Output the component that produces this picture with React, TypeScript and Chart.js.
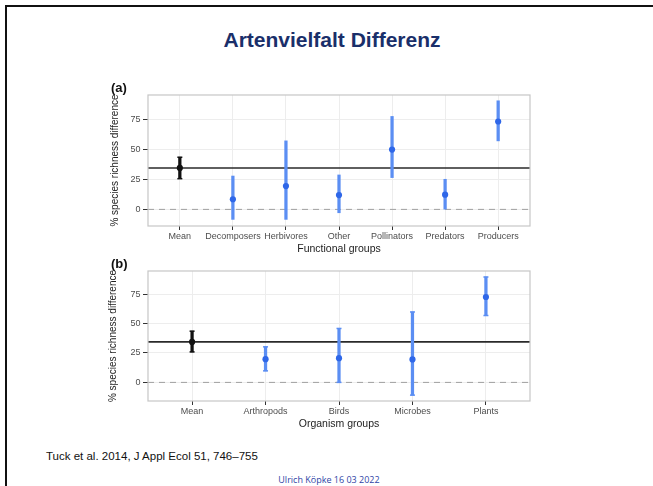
import React, { useEffect, useRef } from "react";
import { Chart, registerables } from "chart.js";

Chart.register(...registerables);

// ---------- data ----------
const functionalGroups = ["Mean", "Decomposers", "Herbivores", "Other", "Pollinators", "Predators", "Producers"];
const functionalEstimate = [34.4, 8.4, 19.4, 11.9, 49.7, 12.2, 73.0];
const functionalLower = [25.5, -8.3, -8.3, -2.8, 26.4, 0.2, 56.9];
const functionalUpper = [43.3, 27.7, 56.9, 28.6, 77.2, 25.0, 90.2];

const organismGroups = ["Mean", "Arthropods", "Birds", "Microbes", "Plants"];
const organismEstimate = [34.4, 19.7, 20.6, 19.5, 72.5];
const organismLower = [25.9, 9.8, 0.0, -10.8, 56.8];
const organismUpper = [43.5, 30.2, 45.8, 59.8, 89.5];

const yTickValues = [0, 25, 50, 75];
const overallMean = 34.4;
const zeroReference = 0;

const FONT = "'Liberation Sans', Arial, sans-serif";
const BLUE_BAR = "#5b8ef3";
const BLUE_POINT = "#2f67e8";
const MEAN_COLOR = "#111111";

type PanelProps = {
  labels: string[];
  estimate: number[];
  lower: number[];
  upper: number[];
  yMin: number;
  yMax: number;
  xTitle: string;
  blueCaps: boolean;
  xHeight: number;
  xTitlePadBottom: number;
  yTitlePadTop: number;
  left: number;
  top: number;
};

function Panel(p: PanelProps) {
  const ref = useRef<HTMLCanvasElement | null>(null);
  const W = 440;
  const H = 182;

  useEffect(() => {
    if (!ref.current) return;
    const n = p.labels.length;
    const colorsBar = p.labels.map((_, i) => (i === 0 ? MEAN_COLOR : BLUE_BAR));
    const colorsPt = p.labels.map((_, i) => (i === 0 ? MEAN_COLOR : BLUE_POINT));

    const decor = {
      id: "panelDecor",
      beforeDatasetsDraw(chart: any) {
        const { ctx, chartArea: a, scales } = chart;
        const y = scales.y;
        ctx.save();
        const y0 = y.getPixelForValue(zeroReference);
        ctx.strokeStyle = "#a0a0a0";
        ctx.lineWidth = 1;
        ctx.setLineDash([6, 5]);
        ctx.beginPath();
        ctx.moveTo(a.left, y0);
        ctx.lineTo(a.right, y0);
        ctx.stroke();
        ctx.setLineDash([]);
        const ym = y.getPixelForValue(overallMean);
        ctx.strokeStyle = "#2a2a2a";
        ctx.lineWidth = 1.6;
        ctx.beginPath();
        ctx.moveTo(a.left, ym);
        ctx.lineTo(a.right, ym);
        ctx.stroke();
        ctx.restore();
      },
      afterDatasetsDraw(chart: any) {
        const { ctx, scales } = chart;
        const x = scales.x;
        const y = scales.y;
        ctx.save();
        ctx.lineWidth = 1.5;
        for (let i = 0; i < n; i++) {
          if (i !== 0 && !p.blueCaps) continue;
          ctx.strokeStyle = i === 0 ? MEAN_COLOR : BLUE_BAR;
          const px = x.getPixelForValue(i);
          for (const v of [p.lower[i], p.upper[i]]) {
            const py = y.getPixelForValue(v);
            ctx.beginPath();
            ctx.moveTo(px - 2.5, py);
            ctx.lineTo(px + 2.5, py);
            ctx.stroke();
          }
        }
        ctx.restore();
      },
      afterDraw(chart: any) {
        const { ctx, chartArea: a } = chart;
        ctx.save();
        ctx.strokeStyle = "#c6c6c6";
        ctx.lineWidth = 1.2;
        ctx.strokeRect(a.left, a.top, a.right - a.left, a.bottom - a.top);
        ctx.restore();
      },
    };

    const chart = new Chart(ref.current, {
      type: "bar",
      data: {
        datasets: [
          {
            type: "line",
            data: p.estimate.map((v, i) => ({ x: i, y: v })),
            showLine: false,
            pointRadius: 3.1,
            pointBorderWidth: 0,
            pointBackgroundColor: colorsPt,
            order: 0,
          } as any,
          {
            type: "bar",
            data: p.lower.map((lo, i) => ({ x: i, y: [lo, p.upper[i]] })),
            backgroundColor: colorsBar,
            borderWidth: 0,
            barThickness: 2.6,
            order: 1,
          } as any,
        ],
      },
      plugins: [decor],
      options: {
        animation: false,
        responsive: false,
        layout: { padding: { top: 15, right: 10, left: 0, bottom: 0 } },
        plugins: {
          legend: { display: false },
          tooltip: { enabled: false },
          title: { display: false },
        },
        scales: {
          x: {
            type: "linear",
            min: -0.6,
            max: n - 1 + 0.6,
            offset: false,
            grid: {
              offset: false,
              color: "#ededed",
              tickColor: "#333333",
              tickLength: 4,
              lineWidth: 1,
            },
            border: { display: false },
            afterBuildTicks: (s: any) => {
              s.ticks = p.labels.map((_, i) => ({ value: i }));
            },
            ticks: {
              color: "#4d4d4d",
              font: { family: FONT, size: 9 },
              padding: 1,
              autoSkip: false,
              maxRotation: 0,
              callback: (v: any) => p.labels[v as number] ?? "",
            },
            title: {
              display: true,
              text: p.xTitle,
              color: "#222222",
              font: { family: FONT, size: 10.5 },
              padding: { top: 0, bottom: p.xTitlePadBottom },
            },
            afterFit: (s: any) => {
              s.height = p.xHeight;
            },
          } as any,
          y: {
            type: "linear",
            min: p.yMin,
            max: p.yMax,
            afterBuildTicks: (s: any) => {
              s.ticks = yTickValues.map((v) => ({ value: v }));
            },
            grid: {
              color: "#ededed",
              tickColor: "#333333",
              tickLength: 5,
              lineWidth: 1,
            },
            border: { display: false },
            ticks: {
              color: "#4d4d4d",
              font: { family: FONT, size: 9 },
              padding: 2.5,
            },
            title: {
              display: true,
              text: "% species richness difference",
              color: "#222222",
              font: { family: FONT, size: 10 },
              padding: { top: p.yTitlePadTop, bottom: 0 },
            },
            afterFit: (s: any) => {
              s.width = 48;
            },
          } as any,
        },
      },
    } as any);
    return () => chart.destroy();
  }, []);

  return (
    <canvas
      ref={ref}
      width={W}
      height={H}
      style={{ position: "absolute", left: p.left, top: p.top, width: W, height: H, display: "block" }}
    />
  );
}

export default function App() {
  return (
    <div
      style={{
        position: "absolute",
        left: 0,
        top: 0,
        width: 653,
        height: 486,
        background: "#ffffff",
        overflow: "hidden",
        fontFamily: FONT,
      }}
    >
      <div
        style={{
          position: "absolute",
          left: 5,
          top: 5,
          width: 660,
          height: 490,
          borderTop: "2px solid #111",
          borderLeft: "2px solid #111",
          boxSizing: "border-box",
        }}
      />
      <div
        style={{
          position: "absolute",
          left: 0,
          top: 28,
          width: 664,
          textAlign: "center",
          fontSize: 21,
          lineHeight: "24px",
          fontWeight: "bold",
          color: "#1a2f6a",
        }}
      >
        Artenvielfalt Differenz
      </div>
      <Panel
        labels={functionalGroups}
        estimate={functionalEstimate}
        lower={functionalLower}
        upper={functionalUpper}
        yMin={-13.8}
        yMax={95}
        xTitle="Functional groups"
        blueCaps={false}
        xHeight={36}
        xTitlePadBottom={6.7}
        yTitlePadTop={9}
        left={100}
        top={80}
      />
      <Panel
        labels={organismGroups}
        estimate={organismEstimate}
        lower={organismLower}
        upper={organismUpper}
        yMin={-15.8}
        yMax={94.6}
        xTitle="Organism groups"
        blueCaps={true}
        xHeight={37}
        xTitlePadBottom={7.7}
        yTitlePadTop={7}
        left={100}
        top={256}
      />
      <div style={{ position: "absolute", left: 111, top: 81, fontSize: 13, lineHeight: "14px", fontWeight: "bold", color: "#111" }}>
        (a)
      </div>
      <div style={{ position: "absolute", left: 111, top: 257, fontSize: 13, lineHeight: "14px", fontWeight: "bold", color: "#111" }}>
        (b)
      </div>
      <div style={{ position: "absolute", left: 46, top: 449, fontSize: 11.5, lineHeight: "14px", color: "#111" }}>
        Tuck et al. 2014, J Appl Ecol 51, 746–755
      </div>
      <div
        style={{
          position: "absolute",
          left: 0,
          top: 474,
          width: 658,
          textAlign: "center",
          fontSize: 9,
          lineHeight: "11px",
          color: "#2f45a6",
          fontFamily: "'Open Sans', sans-serif",
        }}
      >
        Ulrich Köpke 16 03 2022
      </div>
    </div>
  );
}
